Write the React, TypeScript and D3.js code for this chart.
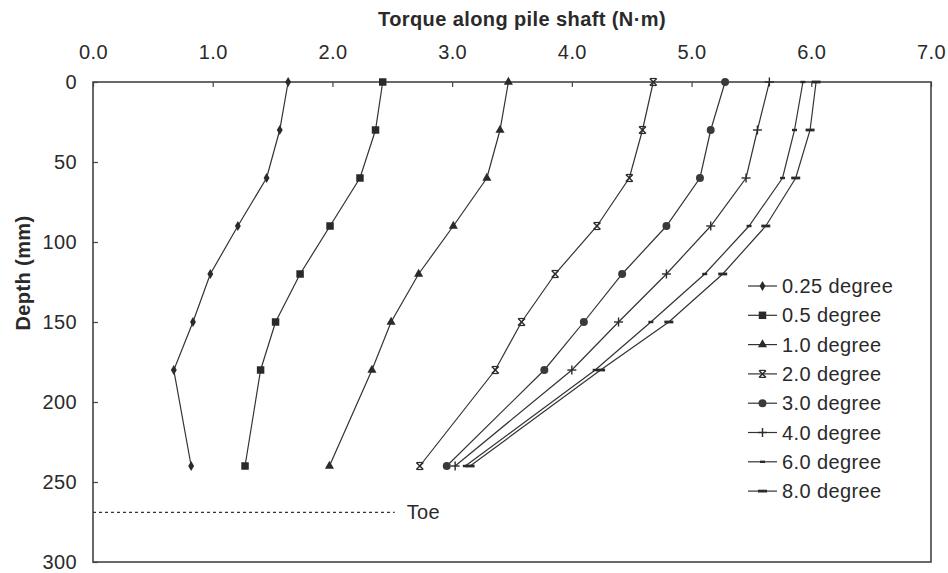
import { useEffect, useRef } from 'react';
import * as d3 from 'd3';

const DEPTHS = [0, 30, 60, 90, 120, 150, 180, 240];
const SERIES_NAMES = ['0.25 degree', '0.5 degree', '1.0 degree', '2.0 degree', '3.0 degree', '4.0 degree', '6.0 degree', '8.0 degree'];
const T_025 = [1.63, 1.56, 1.45, 1.21, 0.98, 0.835, 0.675, 0.82];
const T_05 = [2.42, 2.36, 2.23, 1.98, 1.73, 1.525, 1.4, 1.27];
const T_10 = [3.47, 3.4, 3.29, 3.01, 2.72, 2.49, 2.33, 1.975];
const T_20 = [4.68, 4.59, 4.48, 4.21, 3.86, 3.58, 3.36, 2.73];
const T_30 = [5.28, 5.16, 5.07, 4.79, 4.42, 4.1, 3.77, 2.955];
const T_40 = [5.65, 5.55, 5.455, 5.16, 4.79, 4.39, 4.0, 3.025];
const T_60 = [5.93, 5.86, 5.76, 5.48, 5.11, 4.66, 4.195, 3.11];
const T_80 = [6.04, 5.99, 5.87, 5.62, 5.26, 4.81, 4.24, 3.15];
const X_TICKS = [0, 1, 2, 3, 4, 5, 6, 7];
const Y_TICKS = [0, 50, 100, 150, 200, 250, 300];
const TOE_DEPTH = 269;
const TOE_END = 2.52;

const MARKERS = ['diamond', 'square', 'triangle', 'star', 'circle', 'plus', 'dashShort', 'dashLong'];
const FONT = 'Liberation Sans, Arial, sans-serif';
const FS = 20;
const LS = 0.4;
const INK = '#2a2a2a';

function drawMarker(g: d3.Selection<SVGGElement, unknown, null, undefined>, kind: string, x: number, y: number) {
  const sym = (type: d3.SymbolType, size: number) =>
    g.append('path').attr('transform', `translate(${x},${y})`)
      .attr('d', d3.symbol(type, size)()).attr('fill', INK);
  const seg = (x1: number, y1: number, x2: number, y2: number, w: number) =>
    g.append('line').attr('x1', x + x1).attr('y1', y + y1).attr('x2', x + x2).attr('y2', y + y2)
      .attr('stroke', INK).attr('stroke-width', w);
  if (kind === 'diamond') sym(d3.symbolDiamond, 30);
  else if (kind === 'square') sym(d3.symbolSquare, 56);
  else if (kind === 'triangle') sym(d3.symbolTriangle, 36);
  else if (kind === 'circle') sym(d3.symbolCircle, 50).attr('fill', '#3a3a3a');
  else if (kind === 'star') {
    seg(-3.5, -3.5, 3.5, 3.5, 1.4); seg(-3.5, 3.5, 3.5, -3.5, 1.4);
    seg(-3, -3.5, 3, -3.5, 1.2); seg(-3, 3.5, 3, 3.5, 1.2);
  } else if (kind === 'plus') {
    seg(-4.5, 0, 4.5, 0, 1.4); seg(0, -4.5, 0, 4.5, 1.4);
  } else if (kind === 'dashShort') seg(-2.5, 0, 2.5, 0, 2.4);
  else if (kind === 'dashLong') seg(-4.5, 0, 4.5, 0, 2.8);
}

export default function App() {
  const svgRef = useRef<SVGSVGElement>(null);

  useEffect(() => {
    const svgEl = svgRef.current;
    if (!svgEl) return;
    const width = 948;
    const height = 573;
    const margin = { top: 82, right: 16, bottom: 11, left: 93 };
    const series = [T_025, T_05, T_10, T_20, T_30, T_40, T_60, T_80];

    const svg = d3.select(svgEl).attr('viewBox', `0 0 ${width} ${height}`);
    svg.selectAll('*').remove();

    const x = d3.scaleLinear().domain([0, 7]).range([margin.left, width - margin.right - 1]);
    const y = d3.scaleLinear().domain([0, 300]).range([margin.top, height - margin.bottom]);

    // X axis on top, inward ticks
    const xAxis = svg.append('g').attr('transform', `translate(0,${margin.top})`)
      .call(d3.axisTop(x).tickValues(X_TICKS).tickFormat((v) => d3.format('.1f')(v as number)).tickSize(-5).tickPadding(23));
    xAxis.select('.domain').remove();
    xAxis.selectAll('line').attr('stroke', '#444').attr('stroke-width', 1.2);
    xAxis.selectAll('text').attr('font-family', FONT).attr('font-size', FS).attr('letter-spacing', LS).attr('fill', INK);

    // Y axis, inward ticks
    const yAxis = svg.append('g').attr('transform', `translate(${margin.left},0)`)
      .call(d3.axisLeft(y).tickValues(Y_TICKS).tickSize(-5).tickPadding(16));
    yAxis.select('.domain').remove();
    yAxis.selectAll('line').attr('stroke', '#444').attr('stroke-width', 1.2);
    yAxis.selectAll('text').attr('font-family', FONT).attr('font-size', FS).attr('letter-spacing', LS).attr('fill', INK);

    // Frame
    svg.append('rect').attr('x', x(0)).attr('y', y(0))
      .attr('width', x(7) - x(0)).attr('height', y(300) - y(0))
      .attr('fill', 'none').attr('stroke', '#444').attr('stroke-width', 1.6);

    // Axis titles
    svg.append('text').attr('x', 522).attr('y', 26).attr('text-anchor', 'middle')
      .attr('font-family', FONT).attr('font-size', FS).attr('letter-spacing', LS)
      .attr('font-weight', 700).attr('fill', INK)
      .text('Torque along pile shaft (N·m)');
    svg.append('text').attr('transform', 'rotate(-90)').attr('x', -273).attr('y', 30)
      .attr('text-anchor', 'middle').attr('font-family', FONT).attr('font-size', FS)
      .attr('letter-spacing', LS).attr('font-weight', 700).attr('fill', INK).text('Depth (mm)');

    // Toe line
    svg.append('line').attr('x1', x(0)).attr('x2', x(TOE_END))
      .attr('y1', y(TOE_DEPTH)).attr('y2', y(TOE_DEPTH))
      .attr('stroke', '#333').attr('stroke-width', 1.2).attr('stroke-dasharray', '3 3');
    svg.append('text').attr('x', x(TOE_END) + 12).attr('y', y(TOE_DEPTH) + 7)
      .attr('font-family', FONT).attr('font-size', FS).attr('letter-spacing', LS)
      .attr('fill', INK).text('Toe');

    // Series lines and markers
    const line = d3.line<number>().x((v) => x(v)).y((_, i) => y(DEPTHS[i]));
    series.forEach((vals, si) => {
      svg.append('path').attr('d', line(vals) ?? '').attr('fill', 'none')
        .attr('stroke', '#333').attr('stroke-width', 1.2);
      const g = svg.append('g');
      vals.forEach((v, i) => drawMarker(g, MARKERS[si], x(v), y(DEPTHS[i])));
    });

    // Legend
    const lg = svg.append('g');
    SERIES_NAMES.forEach((name, i) => {
      const ly = 286 + i * 29.3;
      lg.append('line').attr('x1', 748).attr('x2', 777).attr('y1', ly).attr('y2', ly)
        .attr('stroke', '#333').attr('stroke-width', 1.2);
      drawMarker(lg, MARKERS[i], 762.5, ly);
      lg.append('text').attr('x', 782).attr('y', ly + 7)
        .attr('font-family', FONT).attr('font-size', FS).attr('letter-spacing', LS)
        .attr('fill', INK).text(name);
    });
  }, []);

  return (
    <div style={{ position: 'absolute', left: 0, top: 0 }}>
      <svg ref={svgRef} width={948} height={573} style={{ display: 'block', background: '#fff' }} />
    </div>
  );
}
